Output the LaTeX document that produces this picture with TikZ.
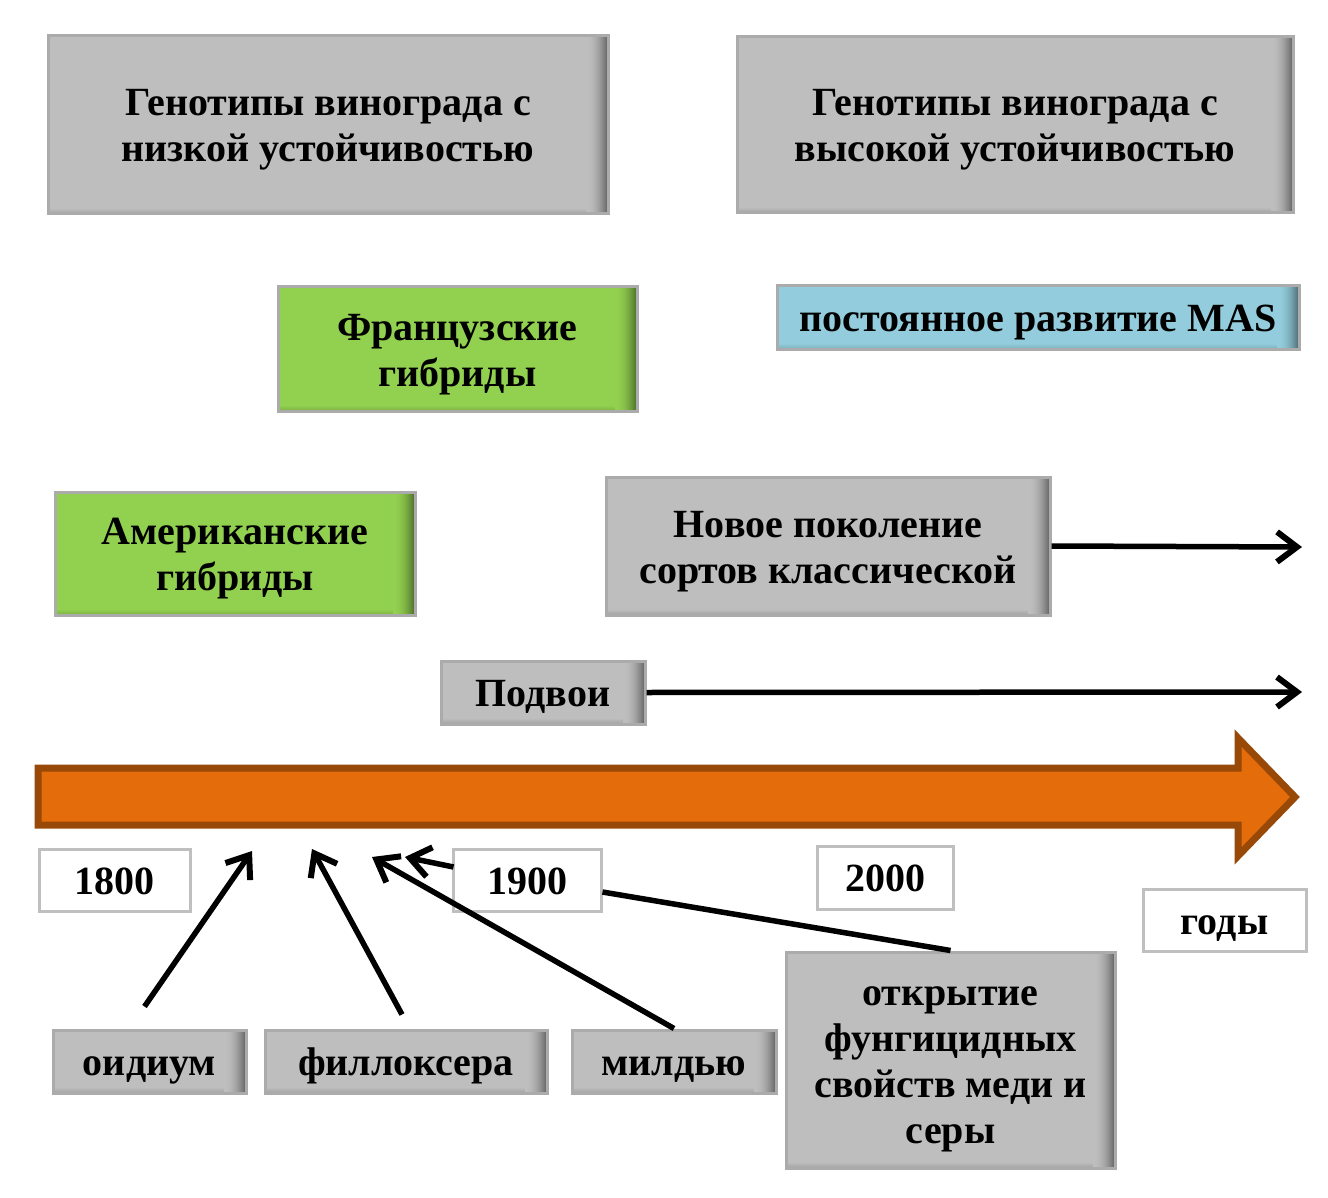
\documentclass[tikz,border=0pt]{standalone}
\usepackage{fontspec}
\setmainfont{Liberation Serif}
\usetikzlibrary{arrows.meta}
\definecolor{boxgray}{HTML}{BEBEBE}
\definecolor{boxgreen}{HTML}{92D050}
\definecolor{boxblue}{HTML}{93CDDD}
\definecolor{edgegray}{HTML}{ABABAB}
\definecolor{whiteedge}{HTML}{BFBFBF}
\definecolor{tlorange}{HTML}{E46C0A}
\definecolor{tlbrown}{HTML}{984807}
\newcommand\st{\rule[-9pt]{0pt}{46pt}}
\tikzset{
  lbl/.style={font=\fontsize{40}{46}\selectfont\bfseries, align=center, inner sep=0pt},
  shbox/.style={lbl, draw=edgegray, line width=3pt, fill=#1,
    path picture={
      \foreach \i in {0,...,21}{
        \pgfmathsetmacro\pc{100-46*(\i/21)^2}
        \fill[#1!\pc!black] ([xshift={-22+\i}]path picture bounding box.north east) rectangle (path picture bounding box.south east);
      }
      \foreach \i in {0,...,5}{
        \pgfmathsetmacro\pc{100-3*\i}
        \fill[#1!\pc!black, opacity=0.5] ([yshift={6-\i}]path picture bounding box.south west) rectangle ([xshift=-22pt]path picture bounding box.south east);
      }
    }},
  yearbox/.style={lbl, draw=whiteedge, line width=3pt, fill=white},
  conn/.style={line width=5.5pt, -{Straight Barb[length=20pt,width=30pt,line width=6pt]}},
  plainconn/.style={line width=5.5pt}
}
\begin{document}
\begin{tikzpicture}[x=1pt,y=-1pt]
\useasboundingbox (0,0) rectangle (1328,1198);
% top boxes
\node[shbox=boxgray, minimum width=560pt, minimum height=178pt] (low) at (328,125) {\st Генотипы винограда с\\\st низкой устойчивостью};
\node[shbox=boxgray, minimum width=556pt, minimum height=176pt] (high) at (1015,125) {\st Генотипы винограда с\\\st высокой устойчивостью};
\node[shbox=boxgreen, minimum width=359pt, minimum height=124pt] (fr) at (457.5,349) {\st Французские\\\st гибриды};
\node[shbox=boxblue, minimum width=522pt, minimum height=63pt] (mas) at (1038,317.5) {\st постоянное развитие MAS};
\node[shbox=boxgreen, minimum width=360pt, minimum height=123pt] (am) at (235,553.5) {\st Американские\\\st гибриды};
\node[shbox=boxgray, minimum width=444pt, minimum height=138pt] (new) at (828,546) {\st Новое поколение\\\st сортов классической};
\node[shbox=boxgray, minimum width=204pt, minimum height=63pt] (pod) at (543,692.5) {\st Подвои};
\coordinate (newend) at (1302,547);
\coordinate (podend) at (1302,692);
\draw[conn] (new.east) -- (newend);
\draw[conn] (pod.east) -- (podend);
% timeline arrow
\draw[fill=tlorange, draw=tlbrown, line width=7pt, line join=miter]
  (38,768) -- (1238,768) -- (1238,738) -- (1295,797) -- (1238,856) -- (1238,825) -- (38,825) -- cycle;
% years
\node[yearbox, minimum width=151pt, minimum height=62pt] (y1800) at (114.5,880) {\st 1800};
\node[yearbox, minimum width=148pt, minimum height=62pt] (y1900) at (527,880) {\st 1900};
\node[yearbox, minimum width=136pt, minimum height=63pt] (y2000) at (885,877.5) {\st 2000};
\node[yearbox, minimum width=163pt, minimum height=62pt] (years) at (1224.5,920) {\st годы};
% bottom boxes
\node[shbox=boxgray, minimum width=193pt, minimum height=63pt] (oid) at (149.5,1061.5) {\st оидиум};
\node[shbox=boxgray, minimum width=282pt, minimum height=63pt] (phyl) at (406,1061.5) {\st филлоксера};
\node[shbox=boxgray, minimum width=204pt, minimum height=63pt] (mil) at (674,1061.5) {\st милдью};
\node[shbox=boxgray, minimum width=329pt, minimum height=216pt] (cu) at (950.5,1060) {\st открытие\\\st фунгицидных\\\st свойств меди и\\\st серы};
% connectors
\coordinate (t1) at (252,851);
\coordinate (t2) at (312,849);
\coordinate (t3) at (372,857);
\coordinate (t4) at (405,857);
\draw[conn] ([shift={(-5,-22)}]oid.north) -- (t1);
\draw[conn] ([shift={(-4,-14)}]phyl.north) -- (t2);
\draw[conn] (mil.north) -- (t3);
\draw[conn] ([shift={(2,-13)}]y1900.west) -- (t4);
\draw[plainconn] (cu.north) -- ([shift={(0,12)}]y1900.east);
\end{tikzpicture}
\end{document}
